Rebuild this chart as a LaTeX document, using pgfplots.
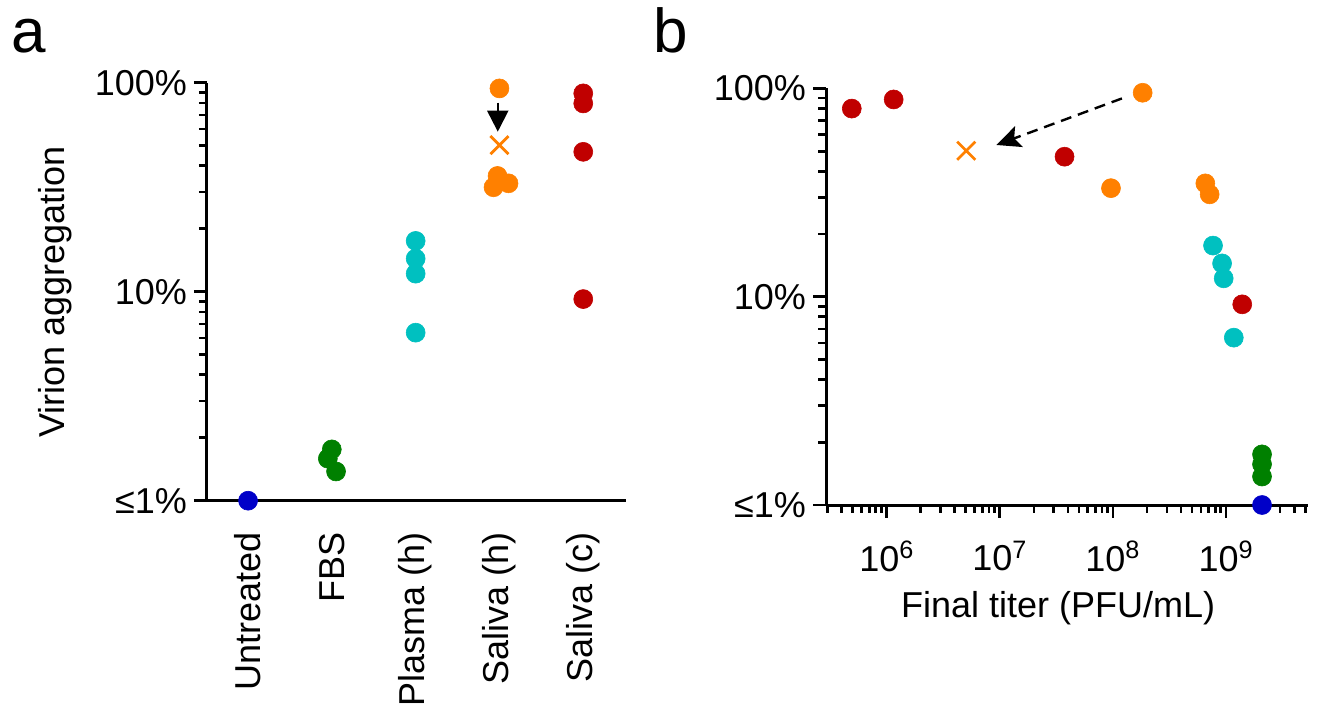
\documentclass[border=0pt]{standalone}
\usepackage{fontspec}
\setmainfont{Liberation Sans}
\usepackage{pgfplots}
\pgfplotsset{compat=1.18}
\usetikzlibrary{arrows.meta}

\definecolor{cblue}{RGB}{0,0,200}
\definecolor{cgreen}{RGB}{0,128,0}
\definecolor{ccyan}{RGB}{0,192,192}
\definecolor{corange}{RGB}{255,128,0}
\definecolor{cred}{RGB}{192,0,0}
\newcommand\lbl{\fontsize{18}{21}\selectfont}

\pgfplotsset{
  mydot/.style={only marks, mark=*, mark size=4.75pt, color=#1, mark options={line width=0.3pt}},
  mycross/.style={only marks, mark=x, mark size=6.4pt, color=#1, mark options={line width=1.4pt}},
}

\begin{document}
\begin{tikzpicture}
\path[use as bounding box] (0,0) rectangle (666.5pt,356.5pt);

% panel a
\node[anchor=base west, inner sep=0pt, font=\fontsize{31}{31}\selectfont] at (5.5pt,330pt) {a};
\begin{axis}[
  scale only axis, clip=false,
  at={(103.5pt,106.15pt)}, anchor=south west,
  width=209.5pt, height=209pt,
  axis lines=left, axis line style={-, line width=1.5pt},
  ymode=log, ymin=1, ymax=100,
  ytick={1,10,100}, yticklabels={≤1\%,10\%,100\%},
  minor ytick={2,3,4,5,6,7,8,9,20,30,40,50,60,70,80,90},
  tick align=outside,
  major tick length=6.5pt, minor tick length=4pt,
  tick style={black, line width=1.4pt},
  tick label style={font=\lbl},
  label style={font=\lbl},
  xmin=-0.49, xmax=4.51,
  xtick={0,1,2,3,4},
  xticklabels={Untreated,FBS,Plasma (h),Saliva (h),Saliva (c)},
  xtick style={draw=none},
  xticklabel style={rotate=90, anchor=east, xshift=-6pt},
  ylabel={Virion aggregation},
  ylabel style={at={(rel axis cs:0,0.5)}, anchor=center, yshift=76pt},
]
\addplot[mydot=cblue] coordinates {(0,1)};
\addplot[mydot=cgreen] coordinates {(0.999,1.76)(0.952,1.59)(1.05,1.38)};
\addplot[mydot=ccyan] coordinates {(2,17.5)(2,14.4)(2,12.2)(2,6.37)};
\addplot[mydot=corange] coordinates {(3,93.9)(2.977,35.8)(2.929,31.6)(3.108,33.0)};
\addplot[mycross=corange] coordinates {(3,50.3)};
\addplot[mydot=cred] coordinates {(4,88.9)(4,79.6)(4,46.7)(4,9.22)};
\draw[line width=1pt, -{Triangle[length=10.5pt,width=10.5pt]}] (axis cs:2.98,80.2) -- (axis cs:2.98,58.3);
\end{axis}

% panel b
\node[anchor=base west, inner sep=0pt, font=\fontsize{31}{31}\selectfont] at (326.5pt,330pt) {b};
\begin{axis}[
  scale only axis, clip=false,
  at={(413pt,104pt)}, anchor=south west,
  width=241.2pt, height=208.3pt,
  axis lines=left, axis line style={-, line width=1.5pt},
  ymode=log, ymin=1, ymax=100,
  ytick={1,10,100}, yticklabels={≤1\%,10\%,100\%},
  minor ytick={2,3,4,5,6,7,8,9,20,30,40,50,60,70,80,90},
  tick align=outside,
  major tick length=6.5pt, minor tick length=4pt,
  tick style={black, line width=1.4pt},
  tick label style={font=\lbl},
  label style={font=\lbl},
  xmode=log, xmin=2.9e5, xmax=5.35e9,
  xtick={1e6,1e7,1e8,1e9},
  xticklabels={10\textsuperscript{6},10\textsuperscript{7},10\textsuperscript{8},10\textsuperscript{9}},
  xticklabel style={yshift=-8pt},
  minor xtick={3e5,4e5,5e5,6e5,7e5,8e5,9e5,2e6,3e6,4e6,5e6,6e6,7e6,8e6,9e6,
    2e7,3e7,4e7,5e7,6e7,7e7,8e7,9e7,2e8,3e8,4e8,5e8,6e8,7e8,8e8,9e8,2e9,3e9,4e9,5e9},
  xlabel={Final titer (PFU/mL)},
  xlabel style={at={(rel axis cs:0.5,0)}, anchor=base, yshift=-56pt, xshift=-4.5pt},
]
\addplot[mydot=cred] coordinates {(4.9e5,80)(1.15e6,88.5)(3.73e7,47)(1.39e9,9.19)};
\addplot[mydot=corange] coordinates {(1.83e8,95.3)(9.6e7,33.2)(6.56e8,35)(7.16e8,31)};
\addplot[mycross=corange] coordinates {(5.04e6,50.2)};
\addplot[mydot=ccyan] coordinates {(7.67e8,17.6)(9.22e8,14.45)(9.53e8,12.25)(1.17e9,6.36)};
\addplot[mydot=cgreen] coordinates {(2.08e9,1.75)(2.08e9,1.57)(2.08e9,1.37)};
\addplot[mydot=cblue] coordinates {(2.08e9,1)};
\draw[line width=1.2pt, dash pattern=on 5.5pt off 3.5pt, -{Stealth[length=12pt,width=11pt,inset=2.5pt]}] (axis cs:1.2e8,89.5) -- (axis cs:9.3e6,53.5);
\end{axis}
\end{tikzpicture}
\end{document}
